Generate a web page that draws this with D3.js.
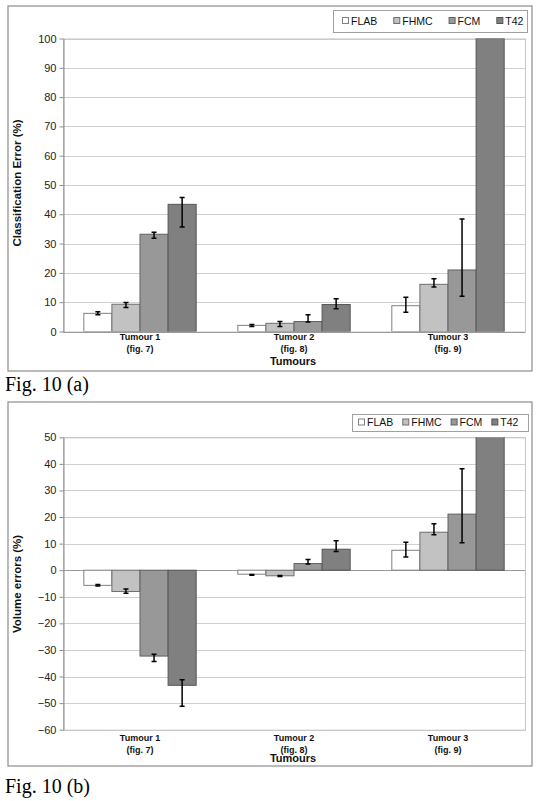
<!DOCTYPE html>
<html><head><meta charset="utf-8">
<script src="https://cdn.jsdelivr.net/npm/d3@7"></script>
<style>body{margin:0;background:#fff}svg{display:block}</style>
</head><body>
<svg id="c" width="540" height="801"></svg>
<script>
// ---- data ----
const categories = ["Tumour 1", "Tumour 2", "Tumour 3"];
const catSub = ["(fig. 7)", "(fig. 8)", "(fig. 9)"];
const seriesNames = ["FLAB", "FHMC", "FCM", "T42"];
const seriesColors = ["#ffffff", "#c2c2c2", "#989898", "#808080"];
const seriesStroke = ["#808080", "#6e6e6e", "#606060", "#555555"];

// Fig 10 (a): classification error (%)
const classErr = {
  FLAB: [6.2, 2.1, 8.8],
  FHMC: [9.3, 2.8, 16.1],
  FCM:  [33.2, 3.4, 21.0],
  T42:  [43.4, 9.2, 100]
};
const classLo = { FLAB:[5.7,1.7,6.6], FHMC:[8.2,1.7,15.2], FCM:[31.8,3.2,12.0], T42:[35.7,7.8,100] };
const classHi = { FLAB:[6.7,2.4,11.7], FHMC:[9.9,3.4,18.0], FCM:[33.9,5.7,38.4], T42:[45.7,11.2,100] };
const classTicks = [0,10,20,30,40,50,60,70,80,90,100];

// Fig 10 (b): volume errors (%)
const volErr = {
  FLAB: [-5.7, -1.5, 7.5],
  FHMC: [-8.0, -2.1, 14.3],
  FCM:  [-32.3, 2.5, 21.1],
  T42:  [-43.3, 7.9, 100]
};
const volLo = { FLAB:[-5.9,-1.9,5.0], FHMC:[-8.7,-2.4,13.3], FCM:[-34.3,2.3,10.3], T42:[-51.2,7.0,100] };
const volHi = { FLAB:[-5.4,-1.6,10.5], FHMC:[-7.1,-2.0,17.5], FCM:[-31.6,4.0,38.2], T42:[-41.2,11.1,100] };
const volTicks = [-60,-50,-40,-30,-20,-10,0,10,20,30,40,50];

const svg = d3.select("#c");
const FONT = "'Liberation Sans', Arial, Helvetica, sans-serif";

function drawChart(cfg) {
  const g = svg.append("g");
  // outer frame
  g.append("rect").attr("x", cfg.frame[0]).attr("y", cfg.frame[1])
    .attr("width", cfg.frame[2]-cfg.frame[0]).attr("height", cfg.frame[3]-cfg.frame[1])
    .attr("fill", "#fff").attr("stroke", "#8c8c8c").attr("stroke-width", 1.2);

  const x0 = d3.scaleBand().domain(categories).range([cfg.px0, cfg.px1]).paddingInner(0).paddingOuter(0);
  const bw = x0.bandwidth();
  const inner = bw * 112/153.5;
  const x1 = d3.scaleBand().domain(seriesNames).range([(bw-inner)/2, (bw+inner)/2]);
  const y = d3.scaleLinear().domain(cfg.domain).range([cfg.py1, cfg.py0]);

  const clipId = "clip" + cfg.id;
  svg.append("clipPath").attr("id", clipId).append("rect")
    .attr("x", cfg.px0).attr("y", cfg.py0).attr("width", cfg.px1-cfg.px0).attr("height", cfg.py1-cfg.py0);

  // gridlines
  g.append("g").selectAll("line").data(cfg.ticks).join("line")
    .attr("x1", cfg.px0).attr("x2", cfg.px1)
    .attr("y1", d => Math.round(y(d))+0.5).attr("y2", d => Math.round(y(d))+0.5)
    .attr("stroke", "#d0d0d0").attr("stroke-width", 1);
  // plot border
  g.append("rect").attr("x", cfg.px0+0.5).attr("y", cfg.py0+0.5)
    .attr("width", cfg.px1-cfg.px0).attr("height", cfg.py1-cfg.py0)
    .attr("fill", "none").attr("stroke", "#c4c4c4");

  // y axis
  const yAxis = d3.axisLeft(y).tickValues(cfg.ticks).tickSize(4).tickSizeOuter(0).tickPadding(3);
  const ya = g.append("g").attr("transform", `translate(${cfg.px0+0.5},0)`).call(yAxis);
  ya.select(".domain").attr("stroke", "#8c8c8c");
  ya.selectAll(".tick line").attr("stroke", "#8c8c8c");
  ya.selectAll(".tick text").attr("font-family", FONT).attr("font-size", 11).attr("fill", "#222");

  // category axis line at zero
  g.append("line").attr("x1", cfg.px0).attr("x2", cfg.px1)
    .attr("y1", Math.round(y(0))+0.5).attr("y2", Math.round(y(0))+0.5)
    .attr("stroke", "#9a9a9a");

  // bars
  const bars = g.append("g").attr("clip-path", `url(#${clipId})`);
  seriesNames.forEach((s, si) => {
    bars.append("g").selectAll("rect").data(cfg.values[s]).join("rect")
      .attr("x", (d,i) => x0(categories[i]) + x1(s))
      .attr("y", d => y(Math.max(0, d)))
      .attr("width", x1.bandwidth())
      .attr("height", d => Math.abs(y(d) - y(0)))
      .attr("fill", seriesColors[si]).attr("stroke", seriesStroke[si]).attr("stroke-width", 1);
  });
  // error bars
  const eb = g.append("g").attr("clip-path", `url(#${clipId})`);
  seriesNames.forEach((s, si) => {
    cfg.values[s].forEach((v, i) => {
      const lo = cfg.lo[s][i], hi = cfg.hi[s][i];
      const cx = x0(categories[i]) + x1(s) + x1.bandwidth()/2;
      if (hi - lo <= 0) return;
      eb.append("line").attr("x1", cx).attr("x2", cx).attr("y1", y(lo)).attr("y2", y(hi))
        .attr("stroke", "#000").attr("stroke-width", 1.5);
      [lo, hi].forEach(e => eb.append("line").attr("x1", cx-2.5).attr("x2", cx+2.5)
        .attr("y1", y(e)).attr("y2", y(e)).attr("stroke", "#000").attr("stroke-width", 1.5));
    });
  });

  // category labels
  categories.forEach((c, i) => {
    const cx = x0(c) + bw/2;
    g.append("text").attr("x", cx).attr("y", cfg.catY).attr("text-anchor", "middle")
      .attr("font-family", FONT).attr("font-weight", "bold").attr("font-size", 9).attr("fill", "#111").text(c);
    g.append("text").attr("x", cx).attr("y", cfg.catY + 12).attr("text-anchor", "middle")
      .attr("font-family", FONT).attr("font-weight", "bold").attr("font-size", 9).attr("fill", "#111").text(catSub[i]);
  });
  g.append("text").attr("x", (cfg.px0+cfg.px1)/2 - 1).attr("y", cfg.titleX).attr("text-anchor", "middle")
    .attr("font-family", FONT).attr("font-weight", "bold").attr("font-size", 11).attr("fill", "#111").text("Tumours");
  g.append("text").attr("transform", `translate(${cfg.yTitleX},${cfg.yTitleY}) rotate(-90)`)
    .attr("text-anchor", "middle").attr("font-family", FONT).attr("font-weight", "bold")
    .attr("font-size", 11.5).attr("fill", "#111").text(cfg.yTitle);

  // legend
  const lg = g.append("g");
  const lbox = lg.append("rect").attr("fill", "#fff").attr("stroke", "#a0a0a0");
  let cx = cfg.legend.x + cfg.legend.pad;
  const ly = (cfg.legend.y0 + cfg.legend.y1)/2;
  seriesNames.forEach((s, si) => {
    lg.append("rect").attr("x", cx+0.5).attr("y", ly-3.5).attr("width", 6).attr("height", 6)
      .attr("fill", seriesColors[si]).attr("stroke", seriesStroke[si]);
    const t = lg.append("text").attr("x", cx + 9).attr("y", ly + 3.8)
      .attr("font-family", FONT).attr("font-size", 10.5).attr("fill", "#111").text(s);
    cx += 9 + t.node().getComputedTextLength() + cfg.legend.gap;
  });
  lbox.attr("x", cfg.legend.x + 0.5).attr("y", cfg.legend.y0 + 0.5)
    .attr("width", cfg.legend.x1 - cfg.legend.x).attr("height", cfg.legend.y1 - cfg.legend.y0);

  // figure caption
  svg.append("text").attr("x", 5).attr("y", cfg.capY)
    .attr("font-family", "'Liberation Serif', 'Times New Roman', serif").attr("font-size", 20)
    .attr("fill", "#000").text(cfg.caption);
}

drawChart({
  id: "a", frame: [8, 6, 532, 371], px0: 63, px1: 525, py0: 38.5, py1: 331.5,
  domain: [0, 100], ticks: classTicks, values: classErr, lo: classLo, hi: classHi,
  catY: 340, titleX: 365, yTitleX: 21, yTitleY: 183, yTitle: "Classification Error (%)",
  legend: { x: 333, x1: 527, y0: 10, y1: 32, pad: 9, gap: 16 },
  caption: "Fig. 10 (a)", capY: 391
});
drawChart({
  id: "b", frame: [8, 402, 532, 766], px0: 63, px1: 525, py0: 437.3, py1: 729.7,
  domain: [-60, 50], ticks: volTicks, values: volErr, lo: volLo, hi: volHi,
  catY: 741, titleX: 761.5, yTitleX: 21, yTitleY: 584, yTitle: "Volume errors (%)",
  legend: { x: 352, x1: 528, y0: 414, y1: 431, pad: 6, gap: 9 },
  caption: "Fig. 10 (b)", capY: 793
});
</script>
</body></html>
